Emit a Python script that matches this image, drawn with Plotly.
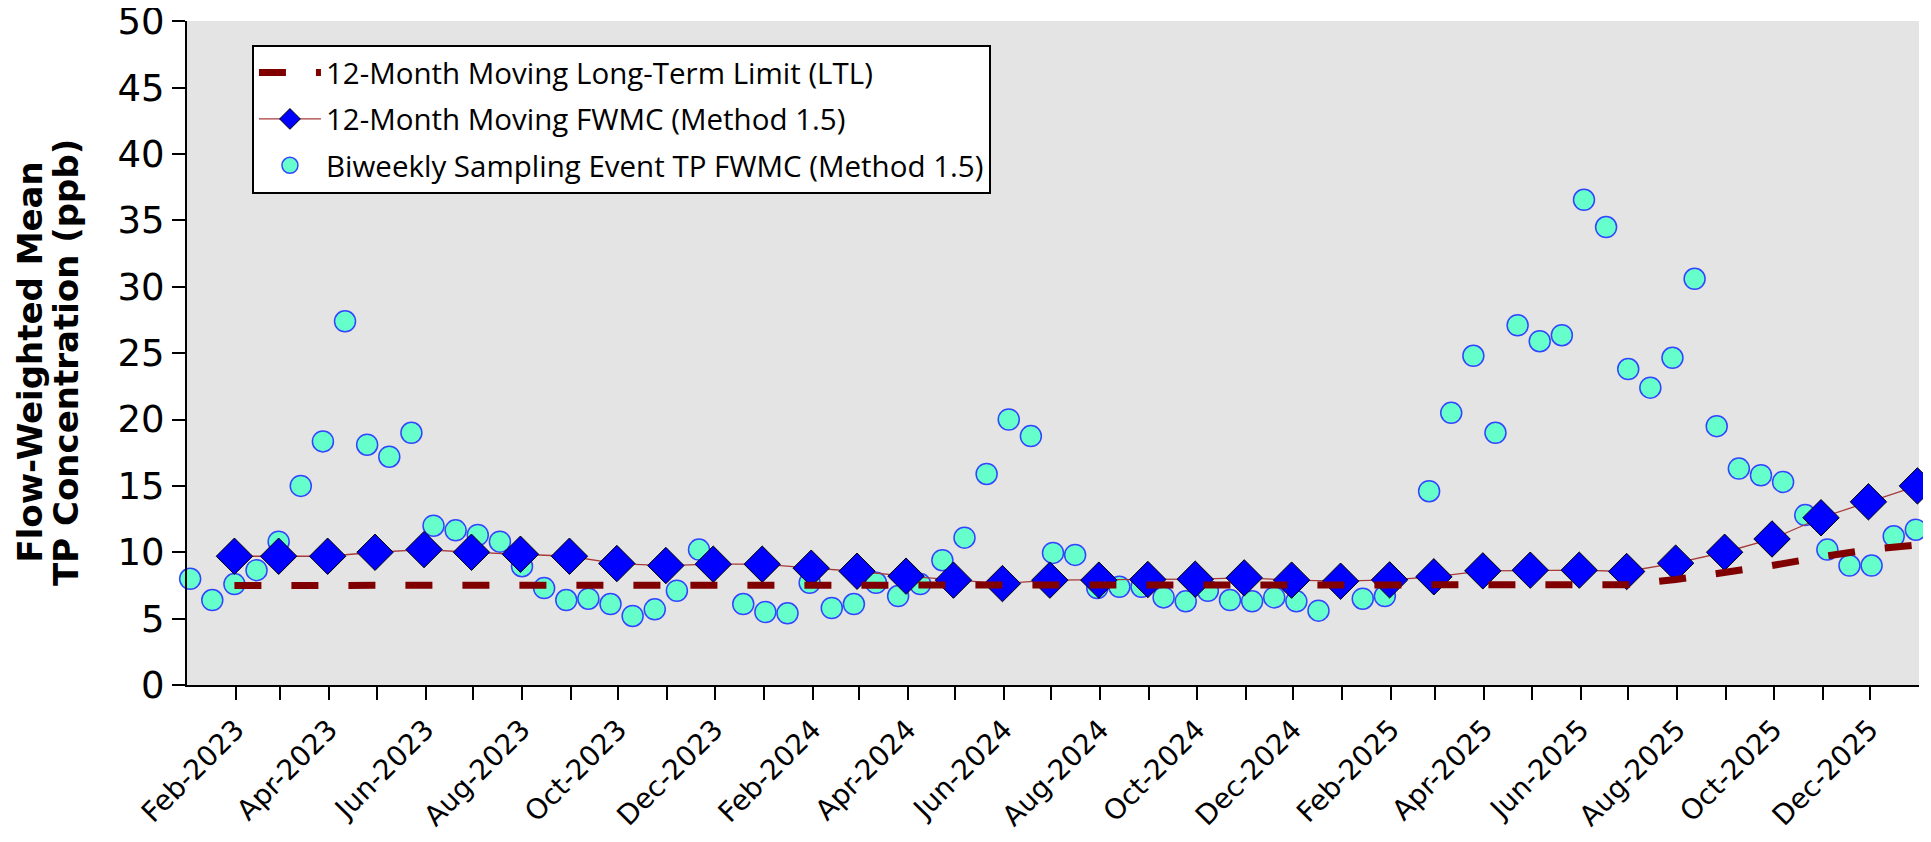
import plotly.graph_objects as go
import pandas as pd

# ---------------- data ----------------
# 12-month moving values, one per month (plotted at month end)
month_ends = pd.date_range("2023-01-31", periods=36, freq="ME").strftime("%Y-%m-%d").tolist()

fwmc_12m = [9.7, 9.7, 9.7, 10.0, 10.2, 10.0, 9.85, 9.7, 9.15, 9.0, 9.1, 9.1,
            8.8, 8.57, 8.2, 7.9, 7.64, 7.9, 7.9, 7.95, 7.97, 8.07, 7.9, 7.82,
            7.92, 8.15, 8.6, 8.65, 8.65, 8.55, 9.18, 10.0, 11.0, 12.6, 13.8, 15.0]

ltl_12m = [7.5] * 29 + [7.55, 7.95, 8.45, 9.0, 9.65, 10.2, 10.55]

biweekly_dates = [
    "2023-01-03", "2023-01-17", "2023-01-31", "2023-02-14", "2023-02-28", "2023-03-14",
    "2023-03-28", "2023-04-11", "2023-04-25", "2023-05-09", "2023-05-23", "2023-06-06",
    "2023-06-20", "2023-07-04", "2023-07-18", "2023-08-01", "2023-08-15", "2023-08-29",
    "2023-09-12", "2023-09-26", "2023-10-10", "2023-10-24", "2023-11-07", "2023-11-21",
    "2023-12-19", "2024-01-02", "2024-01-16", "2024-01-30", "2024-02-13", "2024-02-27",
    "2024-03-12", "2024-03-26", "2024-04-09", "2024-04-23", "2024-05-07", "2024-05-21",
    "2024-06-04", "2024-06-18", "2024-07-02", "2024-07-16", "2024-07-30", "2024-08-13",
    "2024-08-27", "2024-09-10", "2024-09-24", "2024-10-08", "2024-10-22", "2024-11-05",
    "2024-11-19", "2024-12-03", "2024-12-17", "2025-01-14", "2025-01-28", "2025-02-25",
    "2025-03-11", "2025-03-25", "2025-04-08", "2025-04-22", "2025-05-06", "2025-05-20",
    "2025-06-03", "2025-06-17", "2025-07-01", "2025-07-15", "2025-07-29", "2025-08-12",
    "2025-08-26", "2025-09-09", "2025-09-23", "2025-10-07", "2025-10-21", "2025-11-04",
    "2025-11-18", "2025-12-02", "2025-12-16", "2025-12-30",
]
biweekly_fwmc = [
    8.0, 6.4, 7.6, 8.65, 10.8, 15.0,
    18.35, 27.4, 18.1, 17.2, 19.0, 12.0,
    11.65, 11.3, 10.8, 8.95, 7.3, 6.4,
    6.5, 6.1, 5.2, 5.7, 7.1, 10.2,
    6.1, 5.5, 5.4, 7.7, 5.8, 6.1,
    7.7, 6.7, 7.6, 9.4, 11.1, 15.9,
    20.0, 18.75, 9.95, 9.8, 7.3, 7.4,
    7.4, 6.6, 6.3, 7.1, 6.4, 6.3,
    6.6, 6.3, 5.6, 6.5, 6.7, 14.6,
    20.5, 24.8, 19.0, 27.1, 25.9, 26.35,
    36.55, 34.5, 23.8, 22.4, 24.65, 30.6,
    19.5, 16.3, 15.8, 15.3, 12.8, 10.2,
    9.0, 9.0, 11.2, 11.7,
]

# tick labels: every month ticked, every second month labelled
tick_months = pd.date_range("2023-02-01", "2025-12-01", freq="MS")
tick_vals = tick_months.strftime("%Y-%m-%d").tolist()
tick_text = [d.strftime("%b-%Y") if d.month % 2 == 0 else "" for d in tick_months]
y_tick_vals = [0, 5, 10, 15, 20, 25, 30, 35, 40, 45, 50]

LEG_FONT = "Open Sans"
TICK_FONT = "DejaVu Sans"
TITLE_FONT = "DejaVu Sans"

# ---------------- figure ----------------
fig = go.Figure()

fig.add_trace(go.Scatter(
    x=biweekly_dates, y=biweekly_fwmc, mode="markers",
    name="Biweekly Sampling Event TP FWMC (Method 1.5)",
    legendgroup="c", legendrank=3,
    marker=dict(symbol="circle", size=21, color="#66FFCC",
                line=dict(color="#3344FF", width=1.5)),
    cliponaxis=False,
))

fig.add_trace(go.Scatter(
    x=month_ends, y=fwmc_12m, mode="lines+markers",
    name="12-Month Moving FWMC (Method 1.5)",
    legendgroup="b", legendrank=2,
    line=dict(color="#A83A3A", width=1.3),
    marker=dict(symbol="diamond", size=28, color="#0000FF",
                line=dict(color="#000000", width=1)),
    cliponaxis=False,
))

fig.add_trace(go.Scatter(
    x=month_ends, y=ltl_12m, mode="lines",
    name="12-Month Moving Long-Term Limit (LTL)",
    legendgroup="a", legendrank=1,
    line=dict(color="#800000", width=7, dash="27px,30px"),
))

fig.update_layout(
    width=1915, height=826,
    margin=dict(l=179, r=4, t=13, b=149, autoexpand=False),
    paper_bgcolor="white",
    plot_bgcolor="#E4E4E4",
    font=dict(family=LEG_FONT, color="black", size=28),
    showlegend=True,
    legend=dict(
        x=0.0375, y=0.964, xanchor="left", yanchor="top",
        traceorder="grouped",
        bgcolor="white", bordercolor="black", borderwidth=2,
        font=dict(family=LEG_FONT, size=29.5, color="black"),
        itemwidth=62,
        tracegroupgap=5,
    ),
    xaxis=dict(
        type="date",
        range=["2023-01-01", "2026-01-01"],
        tickmode="array", tickvals=tick_vals, ticktext=tick_text,
        tickangle=-45,
        ticks="outside", ticklen=13, tickwidth=2, tickcolor="black",
        showline=True, linecolor="black", linewidth=2,
        showgrid=False, zeroline=False, automargin=False,
        ticklabeloverflow="allow", ticklabelstandoff=2,
        tickfont=dict(family=TICK_FONT, size=28, color="black"),
    ),
    yaxis=dict(
        range=[0, 50.02],
        tickmode="array", tickvals=y_tick_vals,
        ticks="outside", ticklen=13, tickwidth=2, tickcolor="black",
        showline=True, linecolor="black", linewidth=2,
        showgrid=False, zeroline=False, automargin=False,
        ticklabeloverflow="allow",
        tickfont=dict(family=TICK_FONT, size=37, color="black"),
    ),
    annotations=[
        dict(text="<b>Flow-Weighted Mean</b>", textangle=-90,
             xref="paper", yref="paper", x=-0.0905, y=0.486,
             xanchor="center", yanchor="middle", showarrow=False,
             font=dict(family=TITLE_FONT, size=34, color="black")),
        dict(text="<b>TP Concentration (ppb)</b>", textangle=-90,
             xref="paper", yref="paper", x=-0.0695, y=0.486,
             xanchor="center", yanchor="middle", showarrow=False,
             font=dict(family=TITLE_FONT, size=34, color="black")),
    ],
)

fig.write_html("out.html")
